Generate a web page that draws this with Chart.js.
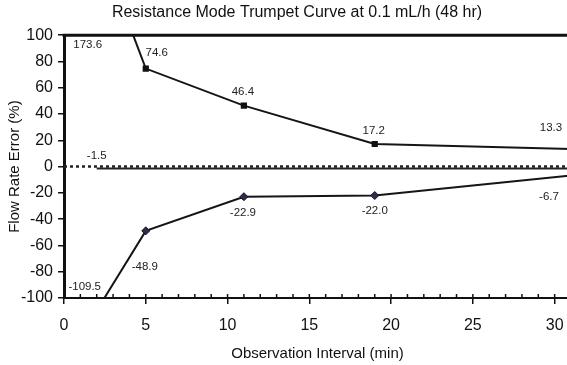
<!DOCTYPE html>
<html>
<head>
<meta charset="utf-8">
<script src="https://cdn.jsdelivr.net/npm/chart.js@4.4.1/dist/chart.umd.min.js"></script>
<style>
  html, body { margin: 0; padding: 0; background: #fff; overflow: hidden; }
  #wrap { width: 577px; height: 365px; }
</style>
</head>
<body>
<div id="wrap"><canvas id="trumpetChart" width="577" height="365"></canvas></div>
<script>
// Observation windows (min) and the max / min flow rate errors (%)
var windowMinutes = [2, 5, 11, 19, 31];
var maxError = [173.6, 74.6, 46.4, 17.2, 13.3];
var minError = [-109.5, -48.9, -22.9, -22.0, -6.7];

// overall mean error line and the zero reference
var meanX = [2, 31];
var meanError = [-1.5, -1.5];
var zeroX = [0, 31];
var zeroY = [0, 0];

// axes
var xMin = 0, xMax = 31, xStep = 5;
var yMin = -100, yMax = 100, yStep = 20;

// where each value label sits relative to its point (px)
var maxLabelOffsets = [[-9, 10], [11, -16], [-1, -14], [-1, -13], [-20, -21]];
var minLabelOffsets = [[-12, -11], [-1, 36], [-1, 16], [0, 15], [-22, 21]];
var meanLabelOffsets = [[0, -13], null];

function toPoints(xs, ys) {
    return xs.map(function(x, i) { return { x: x, y: ys[i] }; });
}

// minor ticks on the x axis + the top frame line
var framePlugin = {
    id: 'frame',
    afterDraw: function(chart) {
        var ctx = chart.ctx;
        var area = chart.chartArea;
        var xs = chart.scales.x;
        ctx.save();
        ctx.strokeStyle = '#111';
        ctx.lineWidth = 3;
        ctx.beginPath();
        ctx.moveTo(area.left - 1.5, area.top);
        ctx.lineTo(area.right + 2, area.top);
        ctx.stroke();
        ctx.lineWidth = 1.5;
        for (var v = xMin + 1; v <= xMax; v++) {
            var px = xs.getPixelForValue(v);
            ctx.beginPath();
            ctx.moveTo(px, area.bottom);
            ctx.lineTo(px, area.bottom - 4);
            ctx.stroke();
        }
        ctx.restore();
    }
};

// value labels next to the points
var labelPlugin = {
    id: 'valueLabels',
    afterDatasetsDraw: function(chart) {
        var ctx = chart.ctx;
        var xs = chart.scales.x, ys = chart.scales.y;
        ctx.save();
        ctx.font = '11.5px "Liberation Sans", Arial, sans-serif';
        ctx.fillStyle = '#222';
        ctx.textAlign = 'center';
        ctx.textBaseline = 'middle';
        chart.data.datasets.forEach(function(ds) {
            if (!ds.labelOffsets) return;
            ds.data.forEach(function(p, i) {
                var off = ds.labelOffsets[i];
                if (!off) return;
                var yv = Math.max(yMin, Math.min(yMax, p.y));
                var px = xs.getPixelForValue(p.x) + off[0];
                var py = ys.getPixelForValue(yv) + off[1];
                ctx.fillText(p.y.toFixed(1), px, py);
            });
        });
        ctx.restore();
    }
};

var ctx = document.getElementById('trumpetChart').getContext('2d');
var trumpetChart = new Chart(ctx, {
    type: 'line',
    data: {
        datasets: [{
            label: 'Zero',
            data: toPoints(zeroX, zeroY),
            borderColor: '#222',
            borderWidth: 2.5,
            borderDash: [3, 3],
            pointRadius: 0
        }, {
            label: 'Mean',
            data: toPoints(meanX, meanError),
            borderColor: '#222',
            borderWidth: 2,
            pointRadius: 0,
            labelOffsets: meanLabelOffsets
        }, {
            label: 'Max',
            data: toPoints(windowMinutes, maxError),
            borderColor: '#151515',
            borderWidth: 2,
            pointStyle: 'rect',
            pointRadius: 3,
            pointBackgroundColor: '#111',
            pointBorderColor: '#111',
            labelOffsets: maxLabelOffsets
        }, {
            label: 'Min',
            data: toPoints(windowMinutes, minError),
            borderColor: '#151515',
            borderWidth: 2,
            pointStyle: 'rectRot',
            pointRadius: 4,
            pointBackgroundColor: '#2c2c55',
            pointBorderColor: '#111',
            pointBorderWidth: 1,
            labelOffsets: minLabelOffsets
        }]
    },
    options: {
        responsive: false,
        animation: false,
        layout: { padding: { left: 17, right: 0, top: 1, bottom: 0 } },
        plugins: {
            legend: { display: false },
            tooltip: { enabled: false },
            title: {
                display: true,
                text: 'Resistance Mode Trumpet Curve at 0.1 mL/h (48 hr)',
                color: '#111',
                font: { family: '"Liberation Sans", Arial, sans-serif', size: 16, weight: 'normal' },
                padding: { top: 2, bottom: 13 }
            }
        },
        scales: {
            x: {
                type: 'linear',
                min: xMin,
                max: xMax,
                afterFit: function(scale) { scale.height = 67; },
                border: { display: true, color: '#111', width: 2 },
                grid: { drawOnChartArea: false, drawTicks: true, tickLength: 6, color: '#111', lineWidth: 1.5 },
                ticks: {
                    stepSize: xStep,
                    includeBounds: false,
                    padding: 12,
                    color: '#111',
                    font: { family: '"Liberation Sans", Arial, sans-serif', size: 16 },
                    maxRotation: 0
                },
                title: {
                    display: true,
                    text: 'Observation Interval (min)',
                    color: '#111',
                    font: { family: '"Liberation Sans", Arial, sans-serif', size: 15 },
                    padding: { top: 0, bottom: 2 }
                }
            },
            y: {
                min: yMin,
                max: yMax,
                afterFit: function(scale) { scale.width = 47; },
                border: { display: true, color: '#111', width: 3 },
                grid: { drawOnChartArea: false, drawTicks: true, tickLength: 6, color: '#111', lineWidth: 1.5 },
                ticks: {
                    stepSize: yStep,
                    padding: 5,
                    color: '#111',
                    font: { family: '"Liberation Sans", Arial, sans-serif', size: 16 }
                },
                title: {
                    display: true,
                    text: 'Flow Rate Error (%)',
                    color: '#111',
                    font: { family: '"Liberation Sans", Arial, sans-serif', size: 15 },
                    padding: { top: -11, bottom: 0 }
                }
            }
        }
    },
    plugins: [framePlugin, labelPlugin]
});
</script>
</body>
</html>
